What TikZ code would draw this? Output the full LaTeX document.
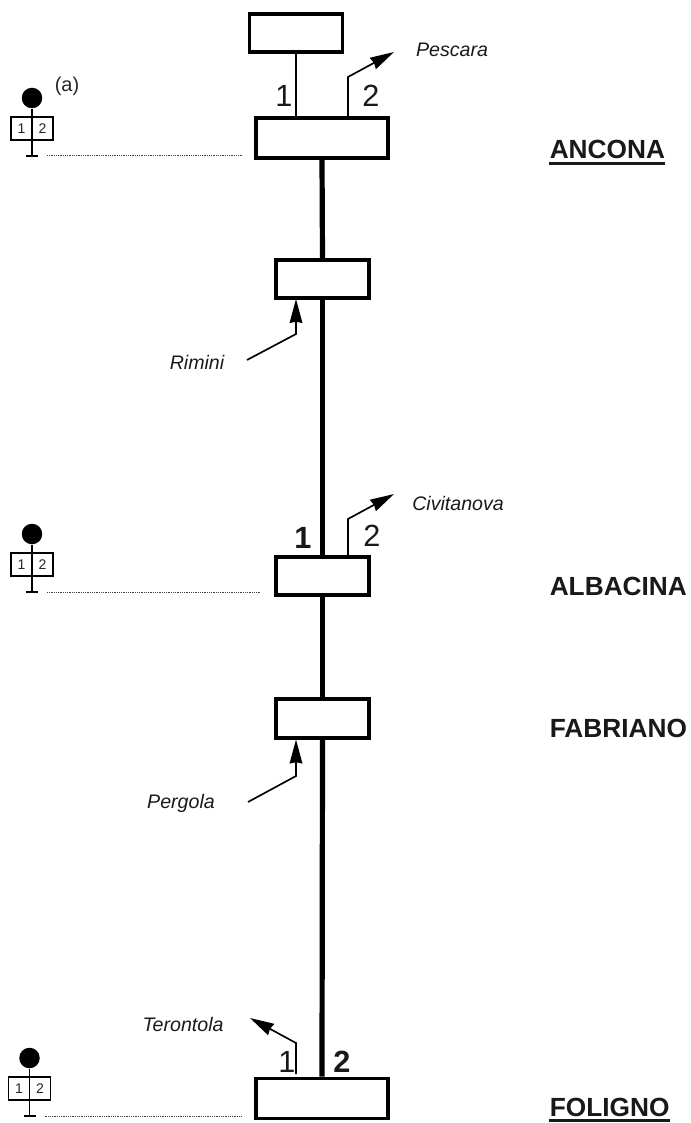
\documentclass[tikz,border=0pt]{standalone}
\usepackage{fontspec}
\setmainfont{Liberation Sans}
\usetikzlibrary{arrows.meta}
\tikzset{
 x=0.75pt,y=-0.75pt,
 stationbox/.style={draw=black,line width=2.9pt,fill=white,inner sep=0pt,minimum width=#1*0.75pt,minimum height=38.5*0.75pt,anchor=center},
 mainline/.style={line width=3.9pt,draw=black},
 thinline/.style={line width=1.35pt,draw=black},
 arrowline/.style={line width=1.25pt,draw=black,-{Stealth[length=18pt,width=9.5pt,inset=1pt]}},
 place/.style={font=\fontsize{14.7pt}{16pt}\selectfont\itshape,inner sep=0pt,text=black!90},
 trackno/.style={font=\fontsize{23pt}{25pt}\selectfont,inner sep=0pt,text=black!90},
 tracknob/.style={font=\fontsize{23pt}{25pt}\selectfont\bfseries,inner sep=0pt,text=black!90},
 cityname/.style={font=\fontsize{19.7pt}{21pt}\selectfont\bfseries,inner sep=0pt,anchor=base west,text=black!90},
 cityrule/.style={line width=2pt,draw=black!90},
 signalpost/.style={line width=1.1pt,draw=black},
 signalbox/.style={draw=black,line width=0.8pt,fill=white,minimum width=21*0.75pt,minimum height=23*0.75pt,inner sep=0pt,font=\fontsize{10.5pt}{11pt}\selectfont,text=black!85},
 lamp/.style={circle,fill=black,minimum size=20.5*0.75pt,inner sep=0pt},
 dotline/.style={line width=0.75pt,draw=black!75,dash pattern=on 0.75pt off 0.6pt},
}
\newcommand{\signalunit}[4]{% name, x, lamp y, dotted end x
  \node[lamp] (#1lamp) at (#2,#3) {};
  \coordinate (#1foot) at (#2,#3+58);
  \coordinate (#1footl) at (#2-6,#3+58);
  \coordinate (#1footr) at (#2+6,#3+58);
  \node[signalbox] (#1a) at (#2-10.5,#3+30.5) {1};
  \node[signalbox] (#1b) at (#2+10.5,#3+30.5) {2};
  \draw[signalpost] (#1lamp) -- (#1foot);
  \draw[signalpost] (#1footl) -- (#1footr);
  \coordinate (#1dots) at (#2+15,#3+58);
  \coordinate (#1dote) at (#4,#3+58);
  \draw[dotline] (#1dots) -- (#1dote);
}
\begin{document}
\begin{tikzpicture}
\useasboundingbox (0,0) rectangle (691,1123);
% stations
\node[stationbox=93] (top) at (296,33) {};
\node[stationbox=132,minimum height=40*0.75pt] (ancona) at (322,138) {};
\node[stationbox=93] (rimini) at (322.5,279) {};
\node[stationbox=93] (albacina) at (322.5,576) {};
\node[stationbox=93] (fabriano) at (322.5,718.5) {};
\node[stationbox=132,minimum height=40*0.75pt] (foligno) at (322,1098.5) {};
% main line
\draw[mainline] (ancona.south) -- (rimini.north);
\draw[mainline] (rimini.south) -- (albacina.north);
\draw[mainline] (albacina.south) -- (fabriano.north);
\draw[mainline] (fabriano.south) -- (foligno.north);
% Ancona connections
\coordinate (pesA) at (348,117);
\coordinate (pesB) at (348,77);
\coordinate (pesC) at (394,52);
\draw[thinline] (top.south) -- (top.south |- ancona.north);
\draw[arrowline] (pesA) -- (pesB) -- (pesC);
% Rimini
\coordinate (rimA) at (247,360);
\coordinate (rimB) at (296,334);
\coordinate (rimC) at (296,299);
\draw[arrowline] (rimA) -- (rimB) -- (rimC);
% Civitanova
\coordinate (civA) at (348,556);
\coordinate (civB) at (348,519);
\coordinate (civC) at (394,494);
\draw[arrowline] (civA) -- (civB) -- (civC);
% Pergola
\coordinate (perA) at (248,802);
\coordinate (perB) at (296,776);
\coordinate (perC) at (296,739.5);
\draw[arrowline] (perA) -- (perB) -- (perC);
% Terontola
\coordinate (terA) at (296,1074);
\coordinate (terB) at (296,1043);
\coordinate (terC) at (250,1018);
\draw[arrowline] (terA) -- (terB) -- (terC);
% labels
\node[place] (lp) at (452,50) {Pescara};
\node[place] (lr) at (197,362) {Rimini};
\node[place] (lc) at (458,503) {Civitanova};
\node[place] (lg) at (181,803) {Pergola};
\node[place] (lt) at (183,1024) {Terontola};
\node[trackno] (n1) at (284,96) {1};
\node[trackno] (n2) at (371,96) {2};
\node[tracknob] (n3) at (303,538) {1};
\node[trackno] (n4) at (372,536) {2};
\node[trackno] (n5) at (287,1062) {1};
\node[tracknob] (n6) at (342,1062) {2};
\node[cityname] (c1) at (549.5,159) {ANCONA};
\node[cityname] (c2) at (549.5,595) {ALBACINA};
\node[cityname] (c3) at (549.5,737) {FABRIANO};
\node[cityname] (c4) at (549.5,1116.5) {FOLIGNO};
\draw[cityrule] ([xshift=-0.5pt,yshift=-3.2pt]c1.base west) -- ([yshift=-3.2pt]c1.base east);
\draw[cityrule] ([xshift=-0.5pt,yshift=-3.2pt]c4.base west) -- ([yshift=-3.2pt]c4.base east);
% signals
\signalunit{sa}{32}{98}{243}
\signalunit{sb}{32}{534}{261}
\signalunit{sc}{29.5}{1058}{241}
\node[font=\fontsize{15pt}{17pt}\selectfont,inner sep=0pt,text=black!85] (lbl) at (67,86) {(a)};
\end{tikzpicture}
\end{document}
